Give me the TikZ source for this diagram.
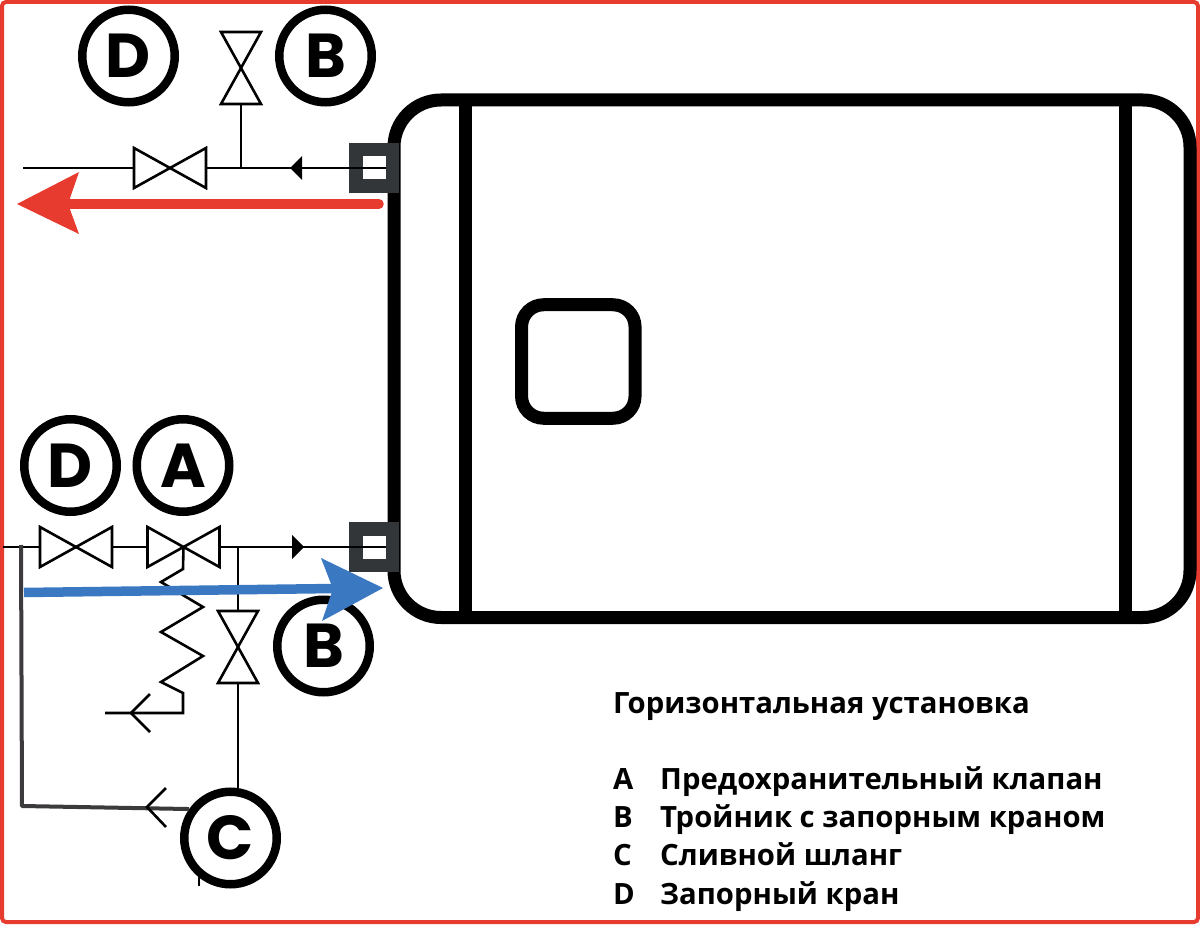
\documentclass[tikz,border=0pt]{standalone}
\usepackage{fontspec}
\setmainfont{Open Sans}
\newfontfamily\calloutfont{Poppins}
\usetikzlibrary{arrows}
\usetikzlibrary{calc}
\usetikzlibrary{positioning}
\definecolor{framered}{HTML}{E63B2E}
\definecolor{flowblue}{HTML}{3A78C2}
\definecolor{portgrey}{HTML}{333638}
\definecolor{hosegrey}{HTML}{3C3A3C}
\tikzstyle{pipestyle}=[draw, line width=2.6pt]
\tikzstyle{hosestyle}=[draw=hosegrey, line width=4pt, line join=round]
\tikzstyle{tankstyle}=[draw, line width=13pt, rounded corners=47pt, minimum width=796pt, minimum height=517.5pt]
\tikzstyle{callout}=[circle, draw, line width=8.5pt, minimum size=92.5pt, inner sep=0pt, font=\calloutfont\bfseries\fontsize{62}{62}\selectfont]
\tikzstyle{portstyle}=[rectangle, fill=portgrey, minimum size=50pt, inner sep=0pt]
\tikzstyle{portslot}=[rectangle, fill=white, minimum width=23pt, minimum height=23pt, inner sep=0pt]
\tikzstyle{legend}=[anchor=base west, inner sep=0pt, font=\bfseries\fontsize{29.3}{29.3}\selectfont]
\newcommand{\valvehor}[2]{
  \coordinate (#1) at (#2);
  \coordinate (#1w) at ($(#1)+(-36,0)$);
  \coordinate (#1e) at ($(#1)+(36,0)$);
  \draw [pipestyle, line join=miter] ($(#1w)+(0,-20)$) -- ++(72,40) -- ++(0,-40) -- ++(-72,40) -- cycle;
}
\newcommand{\valvever}[2]{
  \coordinate (#1) at (#2);
  \coordinate (#1n) at ($(#1)+(0,-36)$);
  \coordinate (#1s) at ($(#1)+(0,36)$);
  \draw [pipestyle, line join=miter] ($(#1n)+(-20,0)$) -- ++(40,72) -- ++(-40,0) -- ++(40,-72) -- cycle;
}

\begin{document}
\begin{tikzpicture}[x=1pt, y=-1pt]
\useasboundingbox (0,0) rectangle (1200,925);
\fill [white] (0,0) rectangle (1200,925);
\draw [framered, line width=4pt, rounded corners=4pt] (2,2) rectangle (1198,922);

\node [tankstyle] (tank) at (792,358.75) {};
\draw [line width=13pt] (465,100) -- (465,617.5);
\draw [line width=13pt] (1125.7,100) -- (1125.7,617.5);
\node [draw, line width=13pt, rounded corners=22pt, minimum size=113.5pt] (gauge) at (578.3,361.5) {};

\node [callout] (Dtop) at (128.5,56) {D};
\node [callout] (Btop) at (325.5,56) {B};
\node [callout] (Dlow) at (70.5,465.5) {D};
\node [callout] (Alow) at (183,465.5) {A};
\node [callout] (Blow) at (323.5,646) {B};
\node [callout] (Clow) at (230.5,838) {C};

\node [portstyle] (porttop) at (374,168) {};
\node [portslot] (slottop) at (374,168) {};
\node [portstyle] (portlow) at (374,547) {};
\node [portslot] (slotlow) at (374,547) {};

\valvehor{vtop}{170,168}
\valvever{vtee}{241,68}
\valvehor{vone}{76,547}
\valvehor{vtwo}{183.5,547}
\valvever{vdrain}{238,647}

\coordinate (outlet) at (23,168);
\coordinate (inlet) at (3,547);
\coordinate (teetop) at (241,168);
\coordinate (teelow) at (238,547);
\draw [pipestyle] (outlet) -- (vtopw);
\draw [pipestyle] (vtope) -- (slottop.east);
\draw [pipestyle] (teetop) -- (vtees);
\draw [pipestyle] (inlet) -- (vonew);
\draw [pipestyle] (vonee) -- (vtwow);
\draw [pipestyle] (vtwoe) -- (slotlow.east);
\draw [pipestyle] (teelow) -- (vdrainn);
\draw [pipestyle] (vdrains) -- (vdrains |- Clow.north);
\fill (290,168) -- (302,156) -- (302,180) -- cycle;
\fill (304,547) -- (292,535) -- (292,559) -- cycle;

% spring of the safety valve
\coordinate (wasteend) at (105,713);
\draw [pipestyle, line join=miter] (vtwo) -- (183,569) -- (161,582) -- (203,607) -- (161,632) -- (203,656) -- (161,682) -- (183,693) -- (183,713) -- (wasteend);
\draw [pipestyle] (150,694) -- (131,713) -- (150,732);

\coordinate (hosetop) at (21,545);
\draw [hosestyle] (hosetop) -- (22,806) -- (Clow.145);
\draw [pipestyle] (166,788) -- (147,807) -- (166,827);
\draw [pipestyle] (199,872) -- (199,886);

% flow arrows
\coordinate (redtail) at (379,204);
\coordinate (redneck) at (68,204);
\draw [framered, line width=9.5pt, line cap=round] (redtail) -- (redneck);
\fill [framered] (17,204) -- (79,172) -- (redneck) -- (79,234) -- cycle;
\coordinate (bluetail) at (24,592.5);
\coordinate (blueneck) at (335,588.5);
\draw [flowblue, line width=9.5pt] (bluetail) -- (blueneck);
\fill [flowblue] (383,588) -- (321,558) -- (333,589) -- (322,621) -- cycle;

\node [legend] (title) at (613,713) {Горизонтальная установка};
\node [legend] (keyA) at (613,789) {A};
\node [legend] (keyB) at (613,827) {B};
\node [legend] (keyC) at (613,865) {C};
\node [legend] (keyD) at (613,904) {D};
\node [legend] (textA) at (660,789) {Предохранительный клапан};
\node [legend] (textB) at (660,827) {Тройник с запорным краном};
\node [legend] (textC) at (660,865) {Сливной шланг};
\node [legend] (textD) at (660,904) {Запорный кран};
\end{tikzpicture}
\end{document}
